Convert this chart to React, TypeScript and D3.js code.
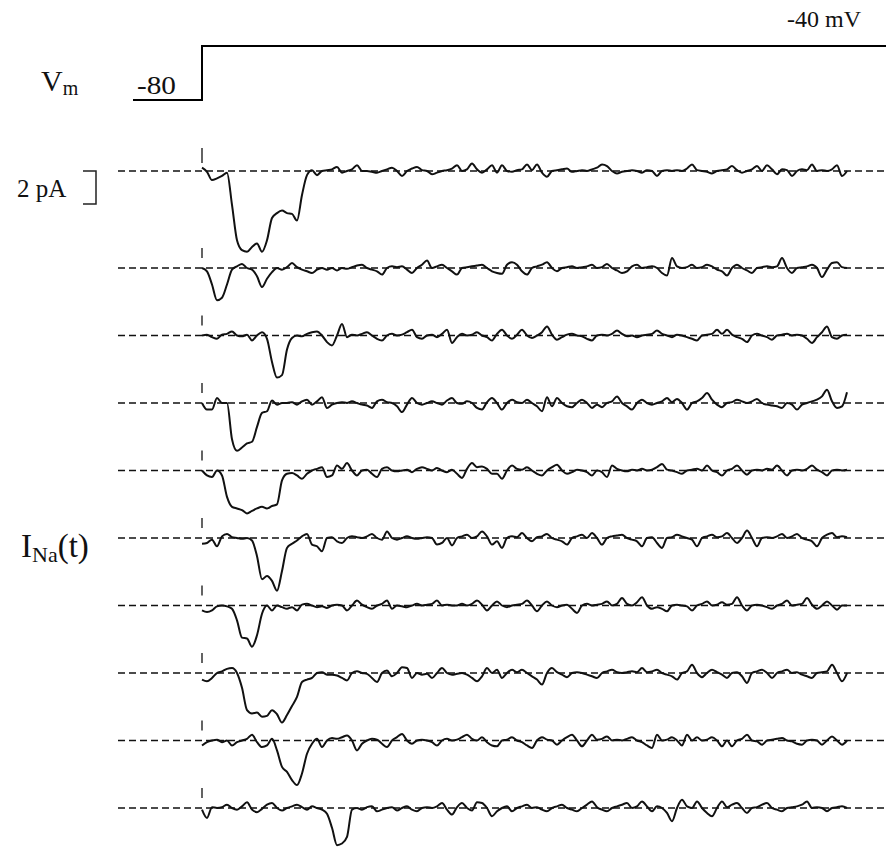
import React from "react";
import * as d3 from "d3";

// Single-channel Na+ current sweeps (pA), sampled at equal time steps after the step to -40 mV
const sweep1 = [
  0.2, -0.05, -0.55, -0.45, -0.3, -0.1, -2.05, -4.2, -4.8, -4.9,
  -4.6, -4.4, -4.9, -4.2, -2.85, -2.55, -2.4, -2.55, -2.6, -3.0,
  -1.45, -0.25, 0.05, -0.25, 0, 0.05, 0.1, 0.25, -0.1, 0,
  0.1, 0.35, 0, 0, -0.05, -0.1, 0, 0.1, 0.2, 0,
  -0.3, 0, 0.15, 0.25, 0.05, 0, -0.2, -0.1, 0, 0.05,
  0.15, 0.35, 0, 0.1, 0.45, 0.1, -0.1, 0.1, 0.35, -0.1,
  0.35, 0, -0.05, 0.05, 0.1, 0.4, 0.05, 0.4, -0.1, -0.35,
  0, 0.05, 0.1, 0.15, -0.05, 0, 0.05, 0, 0.1, 0.2,
  0.4, 0.3, 0, -0.15, -0.05, 0, 0.05, 0, -0.1, 0.05,
  0, -0.3, 0, 0.05, 0, 0.05, 0, 0.15, 0.4, 0.05,
  0, -0.05, -0.15, 0, 0.05, 0.1, 0.3, 0.05, -0.1, 0,
  0.1, 0.3, 0, 0.35, 0.1, -0.2, 0.1, 0.05, -0.3, 0,
  0.1, 0.05, 0.4, 0, 0.05, 0, 0.1, 0.35, -0.3, 0,
];
const sweep2 = [
  0, -0.2, -1.0, -1.95, -1.8, -1.0, -0.1, 0.1, 0.25, 0,
  -0.1, -0.5, -1.15, -0.65, -0.25, 0, -0.1, 0.05, 0.3, 0.05,
  -0.1, -0.2, -0.3, -0.1, 0, -0.1, 0, -0.15, 0, -0.05,
  0.05, 0.15, 0.2, 0, -0.1, -0.2, -0.4, 0, 0.1, 0.05,
  0.1, -0.1, -0.3, 0, 0.2, 0.45, 0, 0.1, 0.2, 0,
  -0.2, -0.4, 0, 0.05, 0.1, 0.15, 0.2, 0, -0.2, -0.3,
  -0.35, 0.2, 0.35, 0.2, -0.2, -0.4, 0, 0.1, 0.2, 0.35,
  0, -0.2, 0, 0.05, 0.1, 0, 0.05, 0.1, 0.2, 0,
  0.05, 0.25, 0, -0.15, -0.3, -0.2, 0.1, 0.2, 0, 0.05,
  0.1, 0, -0.3, -0.45, 0.6, 0.1, 0, 0.05, 0.2, 0,
  0.05, 0.2, 0.1, -0.1, -0.2, -0.45, 0, 0.2, 0, -0.15,
  -0.3, 0, 0.05, 0.1, 0.05, 0.1, 0.6, 0, -0.3, 0,
  0.05, 0.1, 0.2, 0, -0.55, -0.1, 0.3, 0.35, 0.05, 0,
];
const sweep3 = [
  0, 0.05, -0.1, -0.2, 0.05, 0.1, 0.25, 0, -0.05, 0.05,
  -0.3, 0, 0.2, -0.2, -1.6, -2.55, -2.4, -0.85, -0.15, 0,
  -0.05, 0.1, 0.2, 0.25, 0, -0.4, -0.6, 0, 0.7, -0.1,
  0.05, 0, 0.1, 0.2, 0, -0.2, -0.3, 0, 0.1, 0,
  0.05, 0.2, 0.35, -0.1, -0.2, 0, 0.05, -0.1, 0.1, 0.35,
  -0.45, -0.1, 0.1, 0, 0.05, 0.2, 0, -0.1, -0.3, 0.1,
  0.35, 0, -0.2, 0.05, 0.35, 0, -0.15, 0, 0.2, 0.55,
  0.05, -0.25, -0.1, 0.05, 0.1, 0, -0.05, -0.2, -0.3, 0,
  0.05, 0, 0.1, 0.3, 0.1, -0.05, 0, -0.1, 0, 0.05,
  0.1, 0.3, 0.1, 0, -0.1, 0.05, 0, -0.1, -0.2, -0.3,
  0, 0.05, 0.1, 0.35, 0.1, 0.35, 0.05, -0.1, -0.2, -0.4,
  0, 0.1, 0, -0.1, -0.25, 0, 0.05, 0.1, 0, 0.05,
  0, -0.2, -0.45, -0.1, 0.2, 0.55, -0.1, -0.2, 0, 0.05,
];
const sweep4 = [
  0, -0.4, -0.4, 0.3, 0, 0, -2.2, -2.9, -2.7, -2.45,
  -2.35, -1.45, -0.6, -0.5, 0.15, -0.1, 0, 0, 0.05, -0.1,
  0.1, 0.2, -0.1, 0.1, 0.35, -0.3, -0.1, 0, 0.05, 0,
  0.1, 0, -0.1, -0.15, -0.3, 0.1, 0.2, 0.05, 0, -0.2,
  -0.55, -0.1, 0.3, 0, -0.1, 0, 0.1, 0, -0.1, 0.15,
  0.3, 0, -0.05, 0.1, 0, -0.3, -0.4, 0.05, 0.3, 0,
  -0.4, 0, 0.2, 0.05, 0, 0.2, 0, -0.2, -0.5, 0.35,
  -0.2, 0.3, 0, -0.2, -0.25, 0, 0.2, 0, -0.3, -0.1,
  -0.25, 0, 0.1, 0.4, 0, -0.2, -0.4, 0, 0.2, 0,
  -0.1, 0, 0.1, 0.3, 0.05, 0.25, 0, -0.4, 0, 0.1,
  0.3, 0.6, 0.2, -0.1, -0.25, 0, 0.05, 0.2, 0.1, 0,
  0.1, 0.25, 0, -0.1, -0.15, -0.2, -0.3, 0, -0.1, -0.4,
  -0.1, 0, 0.1, 0.2, 0.4, 0.8, 0.1, -0.3, -0.2, 0.65,
];
const sweep5 = [
  0, -0.3, -0.4, 0, -0.3, -1.6, -2.2, -2.3, -2.4, -2.6,
  -2.45, -2.3, -2.2, -2.3, -2.15, -2.05, -0.6, -0.2, -0.15, -0.3,
  -0.5, -0.2, 0, 0.1, 0.2, -0.4, -0.3, 0.3, 0.1, 0.45,
  0, -0.3, 0, 0.05, -0.2, -0.4, 0.1, 0.2, 0, -0.05,
  0, 0.05, -0.1, 0.1, 0.2, 0.1, 0, 0.15, 0, -0.1,
  0.05, -0.2, -0.45, 0.1, 0.45, 0.2, 0.25, 0.1, -0.2, -0.2,
  -0.5, 0, 0.3, 0.1, 0.05, 0.2, 0, -0.2, -0.3, 0,
  0.2, 0.35, 0, -0.2, -0.1, 0.05, 0, -0.1, -0.3, 0,
  -0.1, -0.4, 0.3, 0.1, 0, -0.05, 0.05, 0, 0.1, 0,
  0.05, 0.2, 0.4, 0.05, 0, -0.1, -0.2, 0, 0.05, 0.1,
  0, 0.3, 0, -0.1, -0.3, 0, 0.1, 0.3, 0, -0.25,
  0, 0.05, 0, 0.1, 0.05, 0.3, 0, -0.3, 0, 0.05,
  0, 0.1, 0.3, 0.05, -0.1, -0.3, 0, 0.05, 0, 0.05,
];
const sweep6 = [
  -0.35, -0.3, -0.1, -0.5, 0.1, 0.25, 0.05, 0, -0.05, 0,
  -0.15, -1.1, -2.5, -2.3, -2.6, -3.2, -2.0, -0.6, -0.35, -0.15,
  0.1, 0.25, -0.4, -0.5, -0.8, 0, 0.05, -0.2, -0.3, 0,
  0.1, 0.05, 0, 0.1, 0.25, 0, -0.1, 0.4, 0, -0.1,
  0, 0.1, 0, -0.05, 0, 0.05, 0, -0.4, -0.3, 0,
  -0.45, 0, 0.1, 0.2, 0, 0.1, 0.4, 0.1, -0.4, -0.2,
  -0.6, 0, 0.1, 0.05, 0.3, 0, -0.2, 0.05, 0.1, 0.25,
  0, -0.1, -0.2, -0.4, 0, 0.1, 0.2, 0, 0.3, 0,
  -0.4, 0, 0.1, 0.15, 0.2, 0, -0.1, -0.2, -0.5, 0,
  0.05, -0.3, -0.6, 0, 0.05, 0.2, 0.1, 0, -0.1, -0.5,
  0, 0.1, 0.2, 0.05, 0.1, 0.3, 0, -0.3, 0, 0.45,
  0, -0.5, 0, 0.05, 0, 0.1, 0.25, 0, 0.1, 0.25,
  0, -0.1, -0.2, -0.5, 0, 0.2, 0.3, 0.05, 0.1, 0.05,
];
const sweep7 = [
  -0.3, -0.4, -0.3, -0.05, 0, -0.05, -0.2, -0.9, -1.95, -2.0,
  -2.5, -1.8, -0.5, 0, -0.3, 0, -0.1, -0.2, -0.1, -0.3,
  0.05, 0.1, 0, -0.1, -0.05, -0.15, 0, 0.05, 0, -0.3,
  0, 0.3, 0.05, -0.1, -0.2, 0, 0.1, 0.3, -0.2, 0,
  -0.05, -0.1, 0, 0.1, 0, 0.05, 0.1, 0.3, 0, 0.05,
  0, 0, 0.1, 0, 0.1, 0.3, 0.05, -0.3, 0, 0.25,
  0, -0.1, 0, 0.05, 0.1, 0.3, 0, -0.35, 0, 0.25,
  0, -0.1, 0, 0.05, -0.2, -0.45, 0, 0.1, 0, 0.05,
  0.1, 0.25, 0, 0.1, 0.45, 0.1, 0, 0.2, 0.5, 0,
  -0.2, -0.1, -0.2, -0.35, 0, 0.05, 0, -0.05, -0.3, 0,
  0.1, 0.25, 0, 0.05, 0.2, 0.05, 0.1, 0.5, 0, -0.3,
  0, 0.05, 0, -0.1, -0.2, 0, 0.1, 0.3, 0, 0.05,
  0.1, 0.45, 0.05, -0.2, 0, 0.25, 0, -0.25, 0, 0,
];
const sweep8 = [
  -0.4, -0.5, -0.3, 0, 0.1, 0.25, 0.3, 0, -0.9, -2.25,
  -2.45, -2.4, -2.65, -2.6, -2.25, -2.5, -3.0, -2.55, -2.0, -1.45,
  -0.55, -0.4, -0.3, 0, 0.05, -0.1, -0.1, -0.15, -0.3, -0.45,
  0, 0.1, 0, -0.05, -0.3, -0.55, 0, 0.15, -0.2, 0,
  0.35, 0.3, -0.3, 0, -0.1, -0.05, -0.3, 0, 0.3, 0,
  -0.1, -0.05, 0, -0.1, -0.3, -0.5, -0.2, 0.3, 0, 0.2,
  -0.3, 0, 0.2, 0.05, 0.2, 0, -0.2, -0.4, -0.7, 0,
  0.3, 0.05, -0.1, -0.25, 0, 0.05, 0, -0.1, -0.2, -0.3,
  0, 0.1, 0.2, 0.05, 0, 0.05, 0.1, 0.05, 0.3, 0.05,
  0.1, 0.2, 0, -0.1, -0.2, -0.4, 0, 0.1, 0.5, 0,
  -0.25, 0, 0.2, 0.05, -0.1, -0.3, 0, 0.05, -0.2, -0.6,
  0, 0.1, 0.2, 0, -0.3, 0, 0.1, 0.2, 0, 0.05,
  -0.1, -0.2, -0.3, 0, 0.05, 0.1, 0.5, 0, -0.5, 0,
];
const sweep9 = [
  -0.3, -0.1, 0, 0.05, -0.1, 0, -0.3, -0.1, 0, 0.1,
  0.35, -0.1, -0.4, -0.3, 0.1, -0.6, -1.6, -1.9, -2.4, -2.7,
  -2.0, -0.8, -0.2, 0.1, -0.4, 0, 0.15, 0.1, 0.2, 0.3,
  0, -0.6, -0.2, 0, 0.1, 0.05, -0.2, -0.4, 0, 0.2,
  0.4, 0, -0.2, 0, 0.05, 0, -0.1, -0.3, 0, 0.1,
  0, 0.05, 0.2, 0.35, 0.1, 0, 0.2, -0.1, -0.3, -0.35,
  0, 0.05, 0.2, 0, -0.1, -0.3, -0.45, 0, 0.2, 0.05,
  0, -0.25, 0, 0.2, 0.35, 0, -0.35, 0, 0.35, 0.05,
  0.1, 0.25, 0, 0.05, 0, 0.1, 0.2, 0, -0.1, -0.3,
  -0.45, 0.35, 0, 0.05, 0.2, 0, -0.3, 0.35, 0, 0.2,
  0, 0.05, 0.2, 0, -0.35, 0, -0.35, 0, 0.1, 0.35,
  0, -0.05, -0.25, 0, 0.05, 0.1, 0.15, 0, -0.05, -0.2,
  -0.25, 0, 0.05, 0, -0.25, 0, 0.25, 0, -0.25, 0,
];
const sweep10 = [
  -0.1, -0.6, 0.05, 0, 0.05, 0.2, 0, -0.1, 0.1, 0.35,
  -0.1, -0.25, -0.05, 0.2, 0.3, 0, -0.15, 0, 0.1, 0.2,
  0.05, -0.1, 0.1, 0, -0.1, -0.35, -1.2, -2.25, -2.15, -1.75,
  -0.1, 0, -0.1, 0.05, 0.1, -0.2, -0.1, 0, 0.05, -0.15,
  0, 0.1, -0.1, -0.2, 0, 0.05, 0, 0.1, 0.3, -0.1,
  -0.4, 0.05, 0.3, 0, -0.15, 0.35, 0.3, 0, -0.5, -0.2,
  0, 0.1, -0.2, 0, 0.1, 0.2, 0, 0.05, -0.1, -0.2,
  0, 0.1, 0.2, 0, -0.1, -0.2, 0, 0.2, 0.4, 0.05,
  -0.1, -0.2, 0, 0.1, 0.2, 0.3, 0, 0.1, 0.4, 0.1,
  -0.2, 0.1, 0, -0.3, -0.8, 0, 0.5, 0.1, 0, 0.4,
  0, -0.3, -0.5, 0, 0.4, 0.05, 0.2, 0.3, 0, -0.3,
  0, 0.05, 0.2, 0.3, 0, -0.1, -0.2, 0, 0.05, 0.1,
  0.2, 0.4, 0, 0.05, 0, -0.2, 0, 0.05, 0.1, 0,
];

const sweeps = [sweep1, sweep2, sweep3, sweep4, sweep5, sweep6, sweep7, sweep8, sweep9, sweep10];

// Voltage protocol (mV)
const holdingPotential = -80;
const testPotential = -40;
const holdingLabel = "-80";
const testLabel = "-40 mV";
const scaleBarPA = 2;
const scaleBarLabel = "2 pA";

const W = 886;
const H = 849;
const FONT = "'Liberation Serif', 'Times New Roman', serif";

export default function App() {
  const nSamples = sweep1.length;
  // time axis (sample index) -> x
  const x = d3.scaleLinear().domain([0, nSamples - 1]).range([202, 847]);
  const pxPerPA = 16.5;
  // sweep baselines
  const base = (k: number) => (k === 0 ? 171 : 268 + (k - 1) * 67.5);
  const yFor = (k: number) =>
    d3.scaleLinear().domain([0, 1]).range([base(k), base(k) - pxPerPA]);

  // voltage scale
  const yV = d3.scaleLinear().domain([holdingPotential, testPotential]).range([100, 46]);
  const stepPath = d3.line()([
    [133, yV(holdingPotential)],
    [x(0), yV(holdingPotential)],
    [x(0), yV(testPotential)],
    [W, yV(testPotential)],
  ]);

  const barTop = base(0);
  const barBottom = base(0) + scaleBarPA * pxPerPA;

  return (
    <svg
      width={W}
      height={H}
      viewBox={`0 0 ${W} ${H}`}
      style={{ position: "absolute", left: 0, top: 0, background: "#fff" }}
      fontFamily={FONT}
    >
      <rect x={0} y={0} width={W} height={H} fill="#fff" />
      {/* Voltage protocol */}
      <path d={stepPath || ""} fill="none" stroke="#000" strokeWidth={2} />
      <text x={41} y={91} fontSize={30} fill="#111">
        V<tspan fontSize={20} dy={4}>m</tspan>
      </text>
      <text x={137} y={94} fontSize={25} fill="#111" textLength={39} lengthAdjust="spacingAndGlyphs">{holdingLabel}</text>
      <text x={861} y={27} fontSize={24} fill="#111" textAnchor="end">{testLabel}</text>

      {/* Scale bar */}
      <text x={17} y={197} fontSize={25} fill="#111">{scaleBarLabel}</text>
      <path
        d={`M83,${barTop}H96V${barBottom}H83`}
        fill="none"
        stroke="#222"
        strokeWidth={1.5}
      />

      {/* I_Na(t) label */}
      <text x={21} y={557} fontSize={33} fill="#111">
        I<tspan fontSize={22} dy={5}>Na</tspan>
        <tspan fontSize={33} dy={-5}>(t)</tspan>
      </text>

      {sweeps.map((s, k) => {
        const y = yFor(k);
        const line = d3
          .line<number>()
          .x((_, i) => x(i))
          .y((v) => y(v))
          .curve(d3.curveMonotoneX);
        const b = base(k);
        const tickTop = k === 0 ? b - 23 : b - 20;
        const tickBot = k === 0 ? b - 8 : b - 10;
        return (
          <g key={k}>
            <line
              x1={118}
              x2={W}
              y1={b}
              y2={b}
              stroke="#111"
              strokeWidth={1.6}
              strokeDasharray="7,4"
            />
            <line x1={x(0)} x2={x(0)} y1={tickTop} y2={tickBot} stroke="#222" strokeWidth={1.4} />
            <path d={line(s) || ""} fill="none" stroke="#111" strokeWidth={2} strokeLinejoin="round" />
          </g>
        );
      })}
    </svg>
  );
}
